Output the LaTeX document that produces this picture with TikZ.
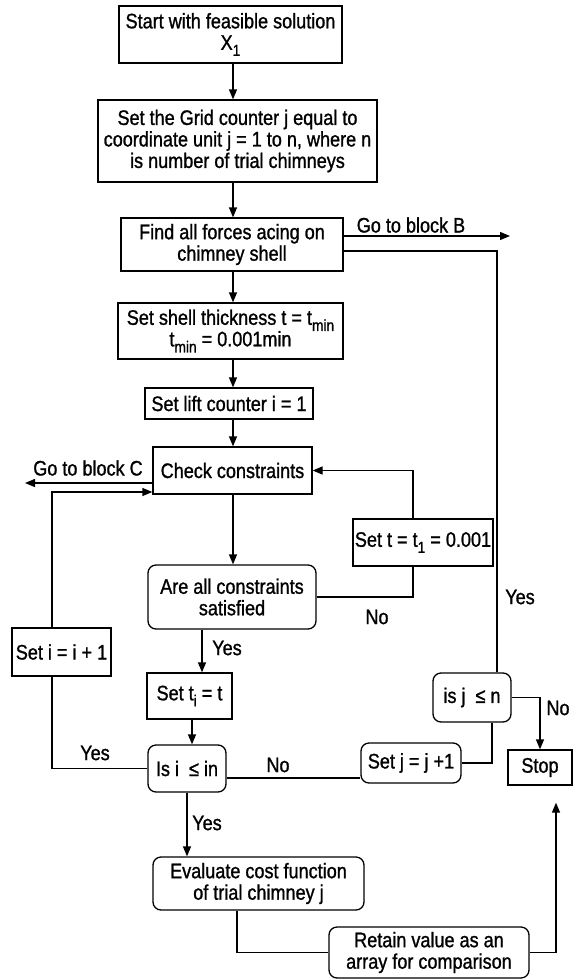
\documentclass[tikz,border=0pt]{standalone}
\usepackage{fontspec}
\setmainfont{Liberation Sans}[FakeStretch=0.86,FakeBold=1.1]
\usetikzlibrary{arrows.meta}
\newcommand\lowsub[1]{\raisebox{-0.55ex}{\fontsize{16}{16}\selectfont #1}}
\begin{document}
\begin{tikzpicture}[x=1pt,y=-1pt,line width=1.3pt,
     box/.style={draw,rectangle,inner sep=0pt,align=center,font=\fontsize{21}{21.5}\selectfont},
     rbox/.style={box,rounded corners=8pt},
     lbl/.style={inner sep=0pt,font=\fontsize{21}{21}\selectfont},
     arr/.style={-{Triangle[length=10pt,width=8pt]}}
     ]
   \useasboundingbox (0,0) rectangle (574,980);
   % main column
   \node[box,minimum width=223pt,minimum height=57pt] (start) at (230.5,34.5)
      {Start with feasible solution\\X\lowsub{1}};
   \node[box,minimum width=279pt,minimum height=82pt] (grid) at (237.5,141)
      {Set the Grid counter j equal to\\coordinate unit j = 1 to n, where n\\is number of trial chimneys};
   \node[box,minimum width=222pt,minimum height=53pt] (forces) at (232,244.5)
      {Find all forces acing on\\chimney shell};
   \node[box,minimum width=225pt,minimum height=56pt] (shell) at (230.5,331)
      {Set shell thickness t = t\lowsub{min}\\t\lowsub{min} = 0.001min};
   \node[box,minimum width=168pt,minimum height=31pt] (lift) at (229,403.5)
      {Set lift counter i = 1};
   \node[box,minimum width=159pt,minimum height=47pt] (check) at (232.5,470.5)
      {Check constraints};
   \node[rbox,minimum width=168pt,minimum height=64pt] (areall) at (232,597)
      {Are all constraints\\satisfied};
   \node[box,minimum width=140pt,minimum height=47pt] (sett) at (423,542.5)
      {Set t = t\lowsub{1} = 0.001};
   \node[box,minimum width=99pt,minimum height=48pt] (seti) at (61.5,652)
      {Set i = i + 1};
   \node[box,minimum width=85pt,minimum height=46pt] (setti) at (189.5,696)
      {Set t\lowsub{i} = t};
   \node[rbox,minimum width=78pt,minimum height=47pt] (isi) at (187,768.5)
      {Is i ~≤ in};
   \node[rbox,minimum width=78pt,minimum height=49pt] (isj) at (472,697.5)
      {is j ~≤ n};
   \node[rbox,minimum width=100pt,minimum height=40pt] (setj) at (411,763)
      {Set j = j +1};
   \node[box,minimum width=64pt,minimum height=35pt] (stop) at (540,767.5)
      {Stop};
   \node[rbox,minimum width=211pt,minimum height=53pt] (eval) at (258.5,883.5)
      {Evaluate cost function\\of trial chimney j};
   \node[rbox,minimum width=200pt,minimum height=51pt] (retain) at (429,952.5)
      {Retain value as an\\array for comparison};

   % labels
   \node[lbl] (lgob) at (411,225) {Go to block B};
   \node[lbl] (lgoc) at (88,468) {Go to block C};
   \node[lbl] (lyes1) at (227,648) {Yes};
   \node[lbl] (lno1) at (377,617) {No};
   \node[lbl] (lyes2) at (95,753) {Yes};
   \node[lbl] (lno2) at (278,765) {No};
   \node[lbl] (lyes3) at (207,823) {Yes};
   \node[lbl] (lyes4) at (520,597) {Yes};
   \node[lbl] (lno3) at (558,708) {No};

   \coordinate (spine) at (233,0);
   \coordinate (gob) at (510,236);
   \coordinate (goc) at (25,483);

   \foreach \a/\b in {start/grid,grid/forces,forces/shell,shell/lift,lift/check,check/areall}
      \draw[arr] (\a.south -| spine) -- (\b.north -| spine);

   \draw[arr] ([xshift=-30pt]areall.south) -- ([xshift=-30pt]areall.south |- setti.north);
   \draw[arr] ([xshift=2.5pt]setti.south) -- ([xshift=2.5pt]setti.south |- isi.north);
   \draw[arr] (isi.south) -- (eval.north -| isi.south);

   % inner loop
   \draw (areall.east) -| ([xshift=-10pt]sett.south);
   \draw[arr] ([xshift=-10pt]sett.north) |- (check.east);
   \draw (isi.west) -| ([xshift=-9.5pt]seti.south);
   \draw[arr] ([xshift=-9.5pt]seti.north) |- ([yshift=-21.5pt]check.west);
   \draw[arr] ([yshift=-12.5pt]check.west) -- (goc);

   % outer loop
   \draw ([yshift=-9.5pt]isi.east) -- ([yshift=-9.5pt]isi.east -| setj.west);
   \draw (setj.east) -| ([xshift=20pt]isj.south);
   \draw ([xshift=25pt]isj.north) |- ([yshift=-6.5pt]forces.east);
   \draw[arr] ([yshift=8.5pt]forces.east) -- (gob);
   \draw[arr] (isj.east) -| (stop.north);

   % results
   \draw ([xshift=-21.5pt]eval.south) |- (retain.west);
   \draw[arr,shorten >=17pt] (retain.east) -| ([xshift=16pt]stop.south);
\end{tikzpicture}
\end{document}
